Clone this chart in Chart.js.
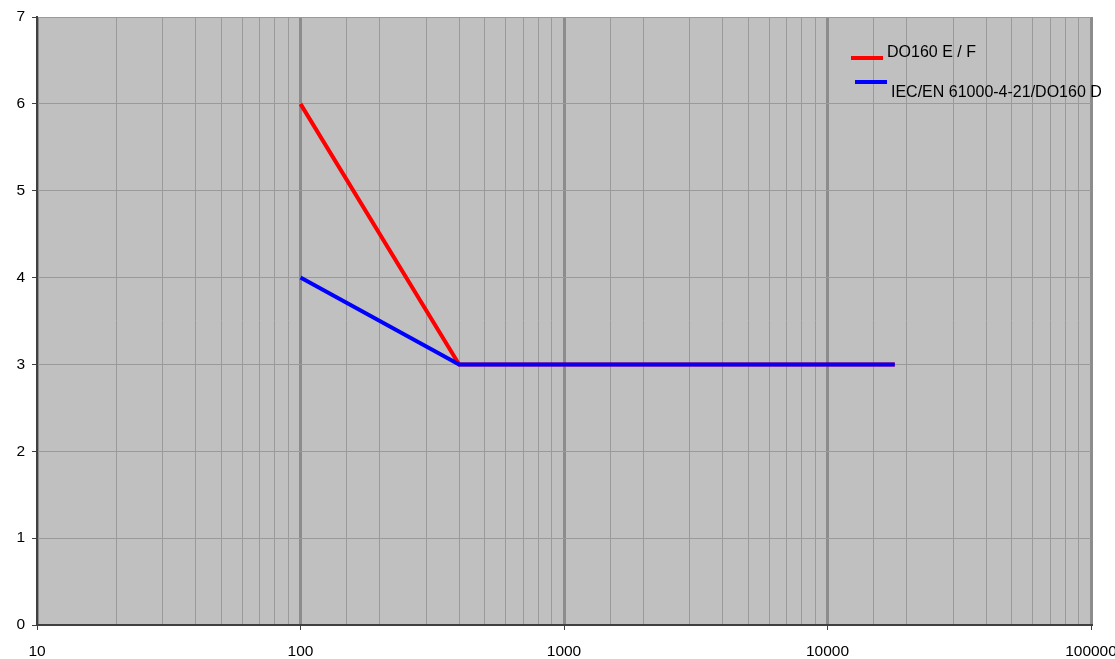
<!DOCTYPE html>
<html>
<head>
<meta charset="utf-8">
<title>DO160 / IEC 61000-4-21</title>
<script src="https://cdn.jsdelivr.net/npm/chart.js@4/dist/chart.umd.min.js"></script>
<style>
  html, body { margin: 0; padding: 0; background: #fff; }
  #wrap { width: 1115px; height: 659px; }
</style>
</head>
<body>
<div id="wrap"><canvas id="chart"></canvas></div>
<script>
// Data
const frequency = [100, 400, 18000];
const do160EF = [6, 3, 3];
const iecDo160D = [4, 3, 3];
const decadeTicks = [10, 100, 1000, 10000, 100000];
const seriesLabels = ["DO160 E / F", "IEC/EN 61000-4-21/DO160 D"];
const seriesColors = ["#ff0000", "#0000ff"];

const fontFamily = "'Liberation Sans', Arial, sans-serif";

function isDecade(v) {
    return decadeTicks.includes(v);
}

// gray plot area
const plotBackground = {
    id: "plotBackground",
    beforeDraw(chart) {
        const { ctx, chartArea: a } = chart;
        ctx.save();
        ctx.fillStyle = "#c0c0c0";
        ctx.fillRect(a.left, a.top, a.right - a.left, a.bottom - a.top);
        ctx.restore();
    }
};

// legend drawn inside the plot, like the original
const insideLegend = {
    id: "insideLegend",
    afterDraw(chart) {
        const ctx = chart.ctx;
        const spots = [
            { x1: 851, x2: 883, y: 58, tx: 887, ty: 53 },
            { x1: 855, x2: 887, y: 82, tx: 891, ty: 93 }
        ];
        ctx.save();
        ctx.font = "16px " + fontFamily;
        ctx.textBaseline = "middle";
        ctx.fillStyle = "#000";
        chart.data.datasets.forEach((ds, i) => {
            const s = spots[i];
            ctx.strokeStyle = ds.borderColor;
            ctx.lineWidth = 4;
            ctx.beginPath();
            ctx.moveTo(s.x1, s.y);
            ctx.lineTo(s.x2, s.y);
            ctx.stroke();
            ctx.fillText(ds.label, s.tx, s.ty);
        });
        ctx.restore();
    }
};

new Chart(document.getElementById("chart"), {
    type: "line",
    data: {
        datasets: [
            {
                label: seriesLabels[0],
                data: frequency.map((f, i) => ({ x: f, y: do160EF[i] })),
                borderColor: seriesColors[0],
                borderWidth: 4,
                pointRadius: 0,
                order: 2
            },
            {
                label: seriesLabels[1],
                data: frequency.map((f, i) => ({ x: f, y: iecDo160D[i] })),
                borderColor: seriesColors[1],
                borderWidth: 4,
                pointRadius: 0,
                order: 1
            }
        ]
    },
    options: {
        responsive: true,
        maintainAspectRatio: false,
        animation: false,
        layout: { padding: { top: 17, right: 24, left: 0, bottom: 0 } },
        plugins: {
            legend: { display: false },
            tooltip: { enabled: false }
        },
        scales: {
            x: {
                type: "logarithmic",
                min: 10,
                max: 100000,
                afterFit(scale) {
                    scale.height = 34;
                    scale.paddingLeft = 0;
                    scale.paddingRight = 0;
                },
                border: { display: true, color: "#404040", width: 2 },
                grid: {
                    color: ctx => isDecade(ctx.tick && ctx.tick.value) ? "#8c8c8c" : "#9a9a9a",
                    lineWidth: ctx => isDecade(ctx.tick && ctx.tick.value) ? 3 : 1,
                    tickColor: ctx => isDecade(ctx.tick && ctx.tick.value) ? "#404040" : "rgba(0,0,0,0)",
                    tickWidth: 1,
                    tickLength: 5
                },
                ticks: {
                    autoSkip: false,
                    maxRotation: 0,
                    padding: 12,
                    color: "#000",
                    font: { family: fontFamily, size: 15.5 },
                    callback: v => isDecade(v) ? String(v) : ""
                }
            },
            y: {
                min: 0,
                max: 7,
                afterFit(scale) { scale.width = 37; },
                border: { display: true, color: "#404040", width: 2 },
                grid: {
                    color: "#9a9a9a",
                    lineWidth: 1,
                    tickColor: "#404040",
                    tickLength: 5
                },
                ticks: {
                    stepSize: 1,
                    padding: 7,
                    color: "#000",
                    font: { family: fontFamily, size: 15.5 }
                }
            }
        }
    },
    plugins: [plotBackground, insideLegend]
});
</script>
</body>
</html>
